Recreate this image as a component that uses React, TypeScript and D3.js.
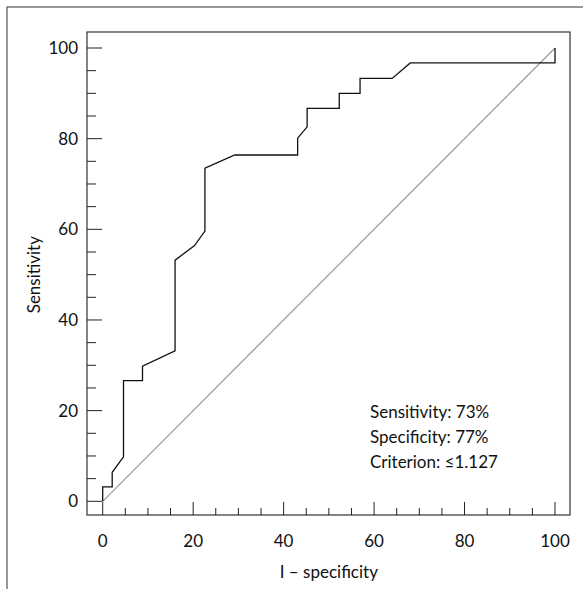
import React from "react";
import * as d3 from "d3";

// ROC curve points: [1 - specificity, sensitivity]
const rocX = [0, 0, 2.1, 2.1, 4.6, 4.6, 8.8, 8.8, 16, 16, 20.3, 22.6, 22.6, 29.2, 43.1, 43.1, 45.2, 45.2, 52.3, 52.3, 56.9, 56.9, 64, 68, 100, 100];
const rocY = [0, 3.2, 3.2, 6.4, 9.8, 26.6, 26.6, 29.8, 33.2, 53.2, 56.4, 59.6, 73.5, 76.4, 76.4, 80.1, 82.6, 86.7, 86.7, 90, 90, 93.3, 93.3, 96.7, 96.7, 100];
const majorTicks = [0, 20, 40, 60, 80, 100];
const notes = ["Sensitivity: 73%", "Specificity: 77%", "Criterion: ≤1.127"];

export default function App() {
  const x = d3.scaleLinear().domain([0, 100]).range([102.7, 555]);
  const y = d3.scaleLinear().domain([0, 100]).range([501.3, 48]);
  const minor = d3.range(0, 101, 5);
  const pts: [number, number][] = rocX.map((v, i) => [x(v), y(rocY[i])]);
  const line = d3.line();
  const font = "Lato, 'Open Sans', sans-serif";
  const left = 87, right = 570, top = 32, bottom = 515;

  return (
    <svg width={583} height={589} style={{ position: "absolute", left: 0, top: 0 }} fontFamily={font}>
      <rect x={7} y={7} width={600} height={600} fill="none" stroke="#333" strokeWidth={1} />
      <rect x={left} y={top} width={right - left} height={bottom - top} fill="none" stroke="#333" strokeWidth={1.2} />
      {minor.map(t => {
        const major = t % 20 === 0;
        return (
          <g key={t}>
            <line x1={x(t)} x2={x(t)} y1={bottom} y2={bottom - (major ? 13 : 7)} stroke="#222" />
            <line x1={left} x2={left + (major ? 15 : 9)} y1={y(t)} y2={y(t)} stroke="#222" />
          </g>
        );
      })}
      {majorTicks.map(t => (
        <g key={"l" + t} fontSize={17} fill="#111">
          <text x={x(t)} y={547} textAnchor="middle">{t}</text>
          <text x={78} y={y(t) + 6} textAnchor="end">{t}</text>
        </g>
      ))}
      <line x1={x(0)} y1={y(0)} x2={x(100)} y2={y(100)} stroke="#999" strokeWidth={1.2} />
      <path d={line(pts) || ""} fill="none" stroke="#111" strokeWidth={1.3} />
      {notes.map((n, i) => (
        <text key={n} x={370} y={418 + i * 25} fontSize={17} fill="#111">{n}</text>
      ))}
      <text x={x(50)} y={578} textAnchor="middle" fontSize={17} fill="#111">I – specificity</text>
      <text transform={`translate(40,${y(50)}) rotate(-90)`} textAnchor="middle" fontSize={17} fill="#111">Sensitivity</text>
    </svg>
  );
}
